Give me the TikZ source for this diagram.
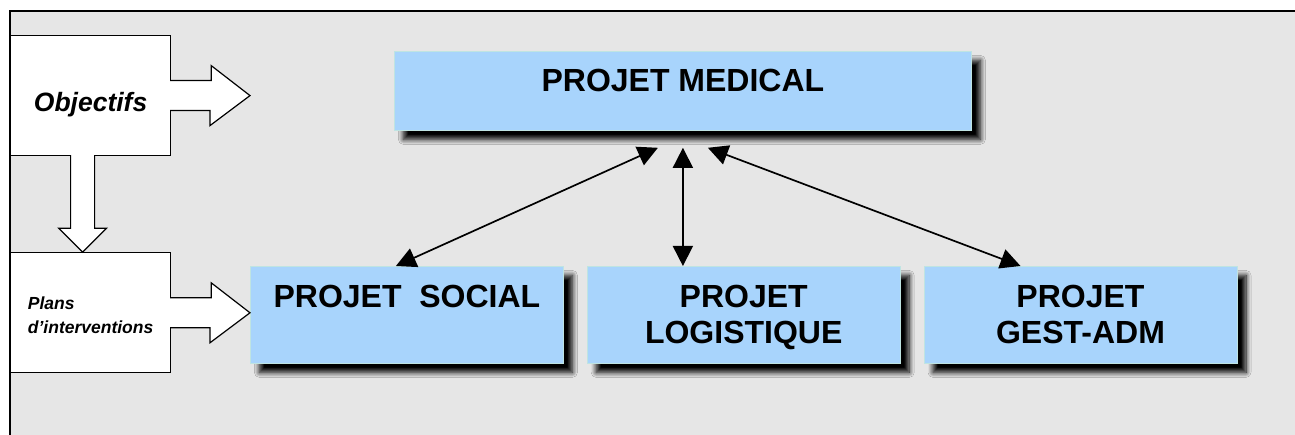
\documentclass[tikz,border=0pt]{standalone}
\usepackage{fontspec}
\setmainfont{Liberation Sans}
\usetikzlibrary{arrows.meta,positioning,calc,shadows.blur}
\definecolor{ProjBlue}{HTML}{A8D4FC}
\definecolor{ProjEdge}{HTML}{BFE4E2}
\definecolor{PanelGray}{HTML}{E6E6E6}

\begin{document}
\begin{tikzpicture}[x=1pt, y=-1pt,
  proj/.style={
    rectangle, fill=ProjBlue, draw=ProjEdge, line width=0.8pt, inner sep=0pt,
    blur shadow={shadow xshift=9pt, shadow yshift=-9pt,
                 shadow blur radius=5pt, shadow blur steps=10, shadow opacity=100},
    font=\fontsize{32}{36}\selectfont\bfseries
  },
  sub/.style={proj, minimum width=313pt, text height=41pt, text depth=56pt},
  side/.style={rectangle, draw, fill=white, line width=1.2pt, inner sep=0pt,
               minimum width=160pt},
  blockarr/.style={draw, fill=white, line width=1.2pt, line join=miter},
  link/.style={{Triangle[length=20pt,width=20pt]}-{Triangle[length=20pt,width=20pt]},
               line width=1.7pt}
]

\useasboundingbox (0,0) rectangle (1295,435);

% grey panel, open on the right and at the bottom
\fill[PanelGray] (10,11) rectangle (1295,435);
\draw[line width=1.2pt] (10,435) -- (10,11) -- (1295,11);

% left column
\node[side, anchor=north west, text height=76pt, text depth=44pt,
      font=\fontsize{26.5}{30}\selectfont\bfseries\itshape] (obj) at (10,35)
  {Objectifs};
\node[side, below=96pt of obj, text height=57pt, text depth=63pt,
      font=\fontsize{17.5}{24}\selectfont\bfseries\itshape] (plans)
  {\begin{tabular}[t]{@{}l@{}}Plans\\d’interventions\end{tabular}};

% project boxes
\node[proj, anchor=north west, minimum width=577pt, text height=40pt, text depth=39pt]
  (med) at (394,51) {PROJET MEDICAL};
\node[sub, anchor=north west] (soc) at (250,266) {PROJET~\ SOCIAL};
\node[sub, right=23pt of soc] (log)
  {\begin{tabular}[t]{@{}c@{}}PROJET\\LOGISTIQUE\end{tabular}};
\node[sub, right=23pt of log] (gest)
  {\begin{tabular}[t]{@{}c@{}}PROJET\\GEST-ADM\end{tabular}};

% block arrows out of the left column
\draw[blockarr] ([shift={(-1pt,15pt)}]obj.east) -- ++(41,0) -- ++(0,-15)
  -- (soc.west |- obj.east) -- ++(-40,30) -- ++(0,-15)
  -- ([shift={(-1pt,-15pt)}]obj.east);
\draw[blockarr] ([shift={(-20pt,1pt)}]obj.south) -- ++(0,73) -- ++(-12,0)
  -- ([xshift=-8pt]plans.north) -- ++(24,-24) -- ++(-12,0)
  -- ([shift={(4pt,1pt)}]obj.south);
\draw[blockarr] ([shift={(-1pt,15pt)}]plans.east) -- ++(41,0) -- ++(0,-15)
  -- (soc.west |- plans.east) -- ++(-40,30) -- ++(0,-15)
  -- ([shift={(-1pt,-15pt)}]plans.east);

% links to the medical project
\draw[link] ([shift={(-25pt,-17pt)}]med.south) -- ([xshift=-11pt]soc.north);
\draw[link] ([yshift=-17pt]med.south) -- (med.south |- log.north);
\draw[link] ([shift={(25pt,-17pt)}]med.south) -- ([xshift=-60pt]gest.north);

\end{tikzpicture}
\end{document}
